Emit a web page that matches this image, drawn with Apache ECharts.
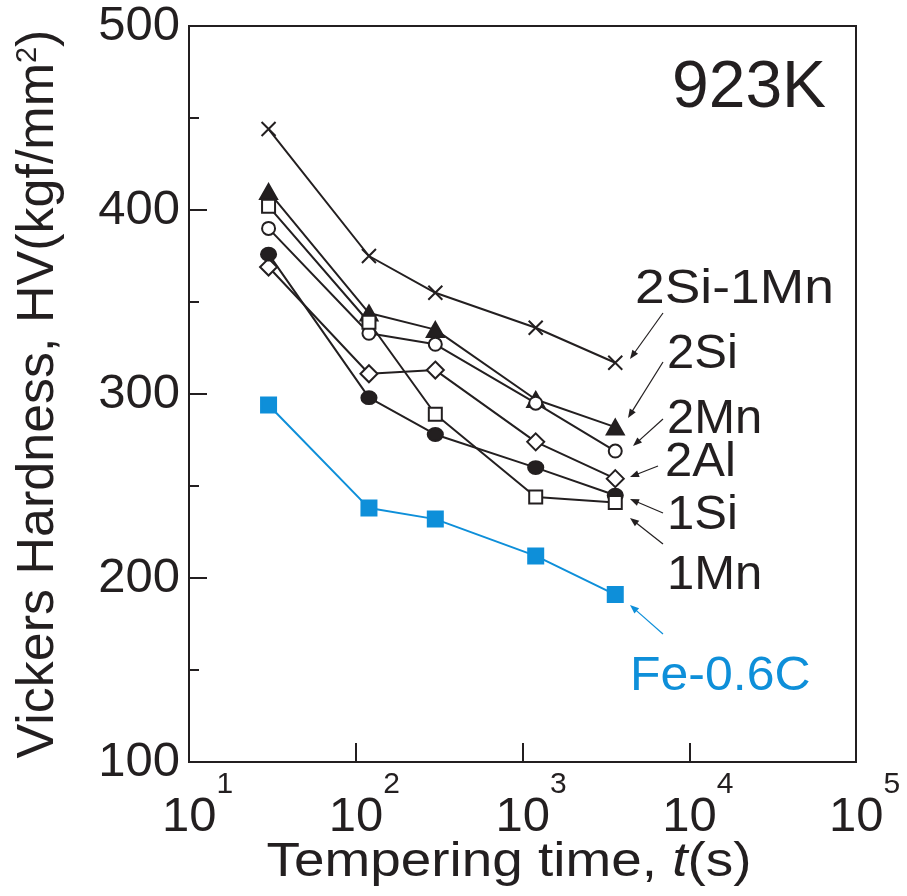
<!DOCTYPE html>
<html><head><meta charset="utf-8">
<script src="https://cdn.jsdelivr.net/npm/echarts@6/dist/echarts.min.js"></script>
<style>html,body{margin:0;padding:0;background:#fff}#c{width:907px;height:896px}</style>
</head><body><div id="c"></div>
<script>
// ---- data ----
const times = [30, 120, 300, 1200, 3600];
const hv2Si1Mn = [444, 375, 355, 336, 317];
const hv2Si    = [410, 344, 335, 297, 282];
const hv2Mn    = [390, 333, 327, 295, 269];
const hv2Al    = [369, 311, 313, 274, 254];
const hv1Si    = [376, 298, 278, 260, 245];
const hv1Mn    = [402, 339, 289, 244, 241];
const hvFe06C  = [294, 238, 232, 212, 191];
const yTickValues = [100, 200, 300, 400, 500];
const xTickExponents = [1, 2, 3, 4, 5];
const seriesNames = ['2Si-1Mn', '2Si', '2Mn', '2Al', '1Si', '1Mn', 'Fe-0.6C'];

const FONT = "'Liberation Sans', Arial, sans-serif";
const BLACK = '#231f20';
const BLUE = '#0e8fd9';

function pts(arr) { return times.map((t, i) => [t, arr[i]]); }

const crossPath = 'path://M0,0L10,10M10,0L0,10';

function mk(name, data, symbol, size, fill, color) {
  return {
    name, type: 'line', data: pts(data), symbol, symbolSize: size,
    lineStyle: { color: color || BLACK, width: 2 },
    itemStyle: { color: fill, borderColor: color || BLACK, borderWidth: 2 },
    emphasis: { disabled: true }, animation: false, z: 3
  };
}

const series = [
  mk(seriesNames[0], hv2Si1Mn, crossPath, 14, BLACK),
  mk(seriesNames[1], hv2Si, 'triangle', [17, 15], BLACK),
  mk(seriesNames[2], hv2Mn, 'circle', 13, '#fff'),
  mk(seriesNames[3], hv2Al, 'diamond', [17, 17], '#fff'),
  mk(seriesNames[4], hv1Si, 'circle', [15, 13], BLACK),
  mk(seriesNames[5], hv1Mn, 'rect', 13, '#fff'),
  mk(seriesNames[6], hvFe06C, 'rect', 15, BLUE, BLUE)
];

// annotation labels (text, left x, cap-center y, color, horizontal stretch) and arrows
const labels = [
  ['2Si-1Mn', 635, 289, BLACK, 1.09], ['2Si', 667, 354, BLACK, 1], ['2Mn', 667, 419, BLACK, 1],
  ['2Al', 665, 462, BLACK, 1], ['1Si', 667, 515, BLACK, 1], ['1Mn', 667, 575, BLACK, 1],
  ['Fe-0.6C', 630, 676, BLUE, 1.02]
];
const arrows = [
  [663, 313, 630, 359, BLACK], [663, 362, 628, 418, BLACK], [663, 419, 633, 446, BLACK],
  [658, 466, 630, 477, BLACK], [663, 513, 630, 499, BLACK], [663, 544, 630, 518, BLACK],
  [663, 634, 630, 605, BLUE]
];

const graphics = [];
labels.forEach(([t, x, y, c, sx]) => graphics.push({
  type: 'text', x, y, scaleX: sx, silent: true,
  style: { text: t, font: '49px ' + FONT, fill: c, align: 'left', verticalAlign: 'middle' }
}));
graphics.push({
  type: 'text', x: 672, y: 89, silent: true,
  style: { text: '923K', font: '66px ' + FONT, fill: BLACK, align: 'left', verticalAlign: 'middle' }
});
// x-axis title (stretched horizontally like the original figure)
graphics.push({
  type: 'text', x: 509, y: 862, scaleX: 1.12, silent: true,
  style: {
    text: '{n|Tempering time, }{i|t}{n|(s)}', align: 'center', verticalAlign: 'middle',
    rich: {
      n: { fontSize: 49, fontFamily: FONT, fill: BLACK },
      i: { fontSize: 49, fontFamily: FONT, fill: BLACK, fontStyle: 'italic' }
    }
  }
});
arrows.forEach(([x1, y1, x2, y2, c]) => {
  const dx = x2 - x1, dy = y2 - y1, L = Math.hypot(dx, dy);
  const ux = dx / L, uy = dy / L, nx = -uy, ny = ux, H = 9, W = 3.5;
  graphics.push({ type: 'line', silent: true,
    shape: { x1, y1, x2: x2 - ux * 4, y2: y2 - uy * 4 }, style: { stroke: c, lineWidth: 1.2 } });
  graphics.push({ type: 'polygon', silent: true,
    shape: { points: [[x2, y2], [x2 - ux * H + nx * W, y2 - uy * H + ny * W], [x2 - ux * H - nx * W, y2 - uy * H - ny * W]] },
    style: { fill: c } });
});

const chart = echarts.init(document.getElementById('c'), null, { renderer: 'canvas' });
chart.setOption({
  animation: false,
  backgroundColor: '#fff',
  grid: { left: 189, right: 51, top: 26, bottom: 134, show: true, borderColor: BLACK, borderWidth: 2, backgroundColor: 'transparent' },
  xAxis: {
    type: 'log', logBase: 10, min: Math.pow(10, xTickExponents[0]), max: Math.pow(10, xTickExponents[xTickExponents.length - 1]),
    axisLine: { show: true, lineStyle: { color: BLACK, width: 2 } },
    axisTick: { show: true, inside: true, length: 19, lineStyle: { color: BLACK, width: 2 } },
    minorTick: { show: false },
    splitLine: { show: false },
    axisLabel: {
      margin: 8,
      formatter: v => '{b|10}{s|' + Math.round(Math.log10(v)) + '}',
      rich: {
        b: { fontSize: 49, fontFamily: FONT, color: BLACK, lineHeight: 94, padding: [0, 0, 0, 17] },
        s: { fontSize: 30, fontFamily: FONT, color: BLACK, lineHeight: 30, verticalAlign: 'top' }
      }
    }
  },
  yAxis: {
    type: 'value', min: yTickValues[0], max: yTickValues[yTickValues.length - 1], interval: 100,
    name: 'Vickers Hardness, HV(kgf/mm{s|2})', nameLocation: 'middle', nameGap: 124, nameRotate: 90,
    nameTextStyle: { fontSize: 52, fontFamily: FONT, color: BLACK,
      rich: { s: { fontSize: 29, fontFamily: FONT, color: BLACK, verticalAlign: 'top', lineHeight: 29 } } },
    axisLine: { show: true, lineStyle: { color: BLACK, width: 2 } },
    axisTick: { show: true, inside: true, length: 18, lineStyle: { color: BLACK, width: 2 } },
    minorTick: { show: true, splitNumber: 2, length: 10, lineStyle: { color: BLACK, width: 2 } },
    splitLine: { show: false },
    axisLabel: { margin: 9, fontSize: 49, fontFamily: FONT, color: BLACK }
  },
  series,
  graphic: graphics
});
</script></body></html>
